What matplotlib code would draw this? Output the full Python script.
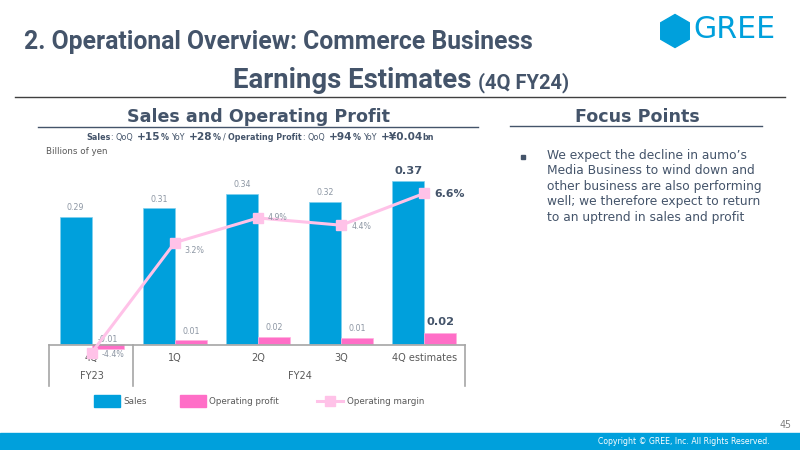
import matplotlib
matplotlib.use("Agg")
import matplotlib.pyplot as plt
from matplotlib.patches import Rectangle, Polygon
from matplotlib.lines import Line2D
from matplotlib.transforms import blended_transform_factory
import math

# ---------------- data ----------------
quarters = ["4Q", "1Q", "2Q", "3Q", "4Q estimates"]
fiscal_years = ["FY23", "FY24"]
fy_spans = [(0, 0), (1, 4)]
sales = [0.289, 0.308, 0.342, 0.323, 0.370]
op_profit = [-0.012, 0.009, 0.017, 0.014, 0.024]
op_margin = [-4.4, 3.2, 4.9, 4.4, 6.6]
focus_lines = [
    "We expect the decline in aumo\u2019s",
    "Media Business to wind down and",
    "other business are also performing",
    "well; we therefore expect to return",
    "to an uptrend in sales and profit",
]

# ---------------- style ----------------
W, H = 800, 450
BLUE = "#00A0DC"
PINK = "#FF6EC7"
LPINK = "#FFC2E8"
DARK = "#44546A"
GRAY = "#8C96A3"
TXT = "#595959"

fig = plt.figure(figsize=(8, 4.5), dpi=100)
fig.patch.set_facecolor("white")
renderer = fig.canvas.get_renderer()


def fx(x):
    return x / W


def fy(y):
    return 1 - y / H


def text_w(s, **kw):
    t = fig.text(0, 0, s, **kw)
    w = t.get_window_extent(renderer).width
    t.remove()
    return w


def fit_text(s, x0, x1, y, fontsize=10, **kw):
    t = fig.text(fx(x0), fy(y), s, fontsize=fontsize, va="center", ha="left", **kw)
    w = t.get_window_extent(renderer).width
    t.set_fontsize(fontsize * (x1 - x0) / w)
    return t


def hline(x0, x1, y, color, lw=1.0):
    fig.add_artist(Line2D([fx(x0), fx(x1)], [fy(y), fy(y)], color=color, lw=lw))


# ---------------- header ----------------
fit_text("2. Operational Overview: Commerce Business", 24, 535, 42,
         fontsize=16, fontweight="bold", color=DARK, family="Roboto")
fit_text("Earnings Estimates", 233, 472, 80, fontsize=16,
         fontweight="bold", color=DARK, family="Roboto")
fit_text("(4Q FY24)", 478, 569, 83, fontsize=10,
         fontweight="bold", color=DARK, family="Roboto")
hline(15, 785, 97, "#404040", 1.0)

# GREE logo
cx, cy, r = 675, 31, 16.5
hexv = [(fx(cx + r * math.cos(math.radians(90 + 60 * k))),
         fy(cy - r * math.sin(math.radians(90 + 60 * k)))) for k in range(6)]
fig.add_artist(Polygon(hexv, closed=True, color=BLUE, transform=fig.transFigure))
fit_text("GREE", 693, 775, 29, fontsize=20, color=BLUE)

# section titles
fit_text("Sales and Operating Profit", 127, 389, 117, fontsize=12,
         fontweight="bold", color=DARK)
hline(38, 478, 127, DARK, 1.0)
fit_text("Focus Points", 575, 699, 117, fontsize=12, fontweight="bold", color=DARK)
hline(510, 762, 126, DARK, 1.0)

# subtitle with mixed runs: (text, size, weight, gap_before_in_spaces)
SM, LG = 6.3, 8.3
runs = [("Sales", SM, "bold", 0), (":", SM, "normal", 0), ("QoQ", SM, "normal", 1),
        ("+15", LG, "bold", 1.6), ("%", SM, "bold", 0), ("YoY", SM, "normal", 1),
        ("+28", LG, "bold", 1.6), ("%", SM, "bold", 0), ("/", SM, "normal", 1),
        ("Operating Profit", SM, "bold", 1), (":", SM, "normal", 0),
        ("QoQ", SM, "normal", 1), ("+94", LG, "bold", 1.6), ("%", SM, "bold", 0),
        ("YoY", SM, "normal", 1), ("+\u00a50.04", LG, "bold", 1.6), ("bn", SM, "bold", 0)]
space = text_w("a a", fontsize=SM) - text_w("aa", fontsize=SM)
widths = [text_w(s, fontsize=f, fontweight=wt) for s, f, wt, g in runs]
total = sum(widths) + space * sum(g for *_, g in runs)
scale = (434 - 86) / total
x = 86
for (s, f, wt, g), w in zip(runs, widths):
    x += g * space * scale
    fig.text(fx(x), fy(140), s, fontsize=f * scale, fontweight=wt,
             color=DARK, va="baseline", ha="left")
    x += w * scale

fit_text("Billions of yen", 46, 108, 152, fontsize=6, color=TXT)

# focus points
t0 = fit_text(focus_lines[2], 547, 760, 188, fontsize=10, color=DARK)
fs_focus = t0.get_fontsize()
t0.remove()
for i, line in enumerate(focus_lines):
    fig.text(fx(547), fy(155.5 + 15.4 * i), line, fontsize=fs_focus, color=DARK,
             va="center", ha="left")
fig.add_artist(Rectangle((fx(521), fy(158.5)), 4 / W, 4 / H, color=DARK,
                         transform=fig.transFigure))

# footer
fig.add_artist(Rectangle((0, 0), 1, 17 / H, color=BLUE, transform=fig.transFigure))
fit_text("Copyright \u00a9 GREE, Inc. All Rights Reserved.", 598, 770, 442,
         fontsize=6, color="white")
fit_text("45", 780, 792, 425, fontsize=6, color="#7F7F7F")

# ---------------- chart ----------------
ax = fig.add_axes([fx(50), fy(370), 416 / W, 220 / H])
ax2 = ax.twinx()
for a in (ax, ax2):
    a.set_facecolor("none")
    for sp in a.spines.values():
        sp.set_visible(False)
    a.set_xticks([])
    a.set_yticks([])
ax.set_xlim(-0.5, 4.5)
ax.set_ylim(-0.0591, 0.4409)
ax2.set_ylim(-5.586, 9.586)

xs = list(range(len(quarters)))
bw = 0.385
ax.bar([i - bw / 2 for i in xs], sales, width=bw, color=BLUE,
       edgecolor="#7FD0EE", linewidth=0.5)
ax.bar([i + bw / 2 for i in xs], op_profit, width=bw, color=PINK,
       edgecolor="#FFB0DF", linewidth=0.5)

last = len(quarters) - 1
for i, v in enumerate(sales):
    bold = i == last
    ax.annotate(f"{v:.2f}", (i - bw / 2, v), xytext=(0, 10 if bold else 9),
                textcoords="offset pixels", ha="center", va="center",
                fontsize=8.2 if bold else 5.7, fontweight="bold" if bold else "normal",
                color=DARK if bold else GRAY)
for i, v in enumerate(op_profit):
    bold = i == last
    if v < 0:
        ax.annotate(f"{v:.2f}", (i + bw / 2, 0), xytext=(0, 4),
                    textcoords="offset pixels", ha="center", va="center",
                    fontsize=5.7, color=GRAY)
    else:
        ax.annotate(f"{v:.2f}", (i + bw / 2, v), xytext=(0, 11 if bold else 9),
                    textcoords="offset pixels", ha="center", va="center",
                    fontsize=8.2 if bold else 5.7,
                    fontweight="bold" if bold else "normal",
                    color=DARK if bold else GRAY)

ax2.plot(xs, op_margin, color=LPINK, lw=2.2, marker="s", markersize=7.5,
         markerfacecolor=LPINK, markeredgecolor=LPINK, zorder=3)
margin_offsets = [(10, -2), (10, -8), (10, 0), (10, -1), (10, -1)]
for i, (m, off) in enumerate(zip(op_margin, margin_offsets)):
    bold = i == last
    ax2.annotate(f"{m:.1f}%", (i, m), xytext=off, textcoords="offset pixels",
                 ha="left", va="center", fontsize=7.8 if bold else 5.7,
                 fontweight="bold" if bold else "normal",
                 color=DARK if bold else GRAY, zorder=4)

# category table
tb = blended_transform_factory(ax.transData, fig.transFigure)
LINEC = "#A6A6A6"
ax.add_line(Line2D([-0.51, 4.49], [fy(344.5), fy(344.5)], color=LINEC, lw=1.2,
                   transform=tb, clip_on=False))
for xv in (-0.51, 0.5, 4.49):
    ax.add_line(Line2D([xv, xv], [fy(344.5), fy(386)], color=LINEC, lw=1.2,
                       transform=tb, clip_on=False))
for i, q in enumerate(quarters):
    ax.text(i, fy(358), q, transform=tb, ha="center", va="center",
            fontsize=7, color=TXT)
for name, (a0, a1) in zip(fiscal_years, fy_spans):
    ax.text((a0 + a1) / 2, fy(376), name, transform=tb, ha="center",
            va="center", fontsize=7, color=TXT)

# legend
fig.add_artist(Rectangle((fx(94), fy(407)), 26 / W, 12 / H, color=BLUE,
                         transform=fig.transFigure))
fig.text(fx(123), fy(401), "Sales", fontsize=6.3, color=TXT, va="center")
fig.add_artist(Rectangle((fx(180), fy(407)), 26 / W, 12 / H, color=PINK,
                         transform=fig.transFigure))
fig.text(fx(209), fy(401), "Operating profit", fontsize=6.3, color=TXT, va="center")
fig.add_artist(Line2D([fx(317), fx(343)], [fy(401), fy(401)], color=LPINK, lw=2.2,
                      transform=fig.transFigure))
fig.add_artist(Line2D([fx(330)], [fy(401)], color=LPINK, marker="s", markersize=7.5,
                      transform=fig.transFigure))
fig.text(fx(347), fy(401), "Operating margin", fontsize=6.3, color=TXT, va="center")

fig.savefig("out.png", dpi=100)
